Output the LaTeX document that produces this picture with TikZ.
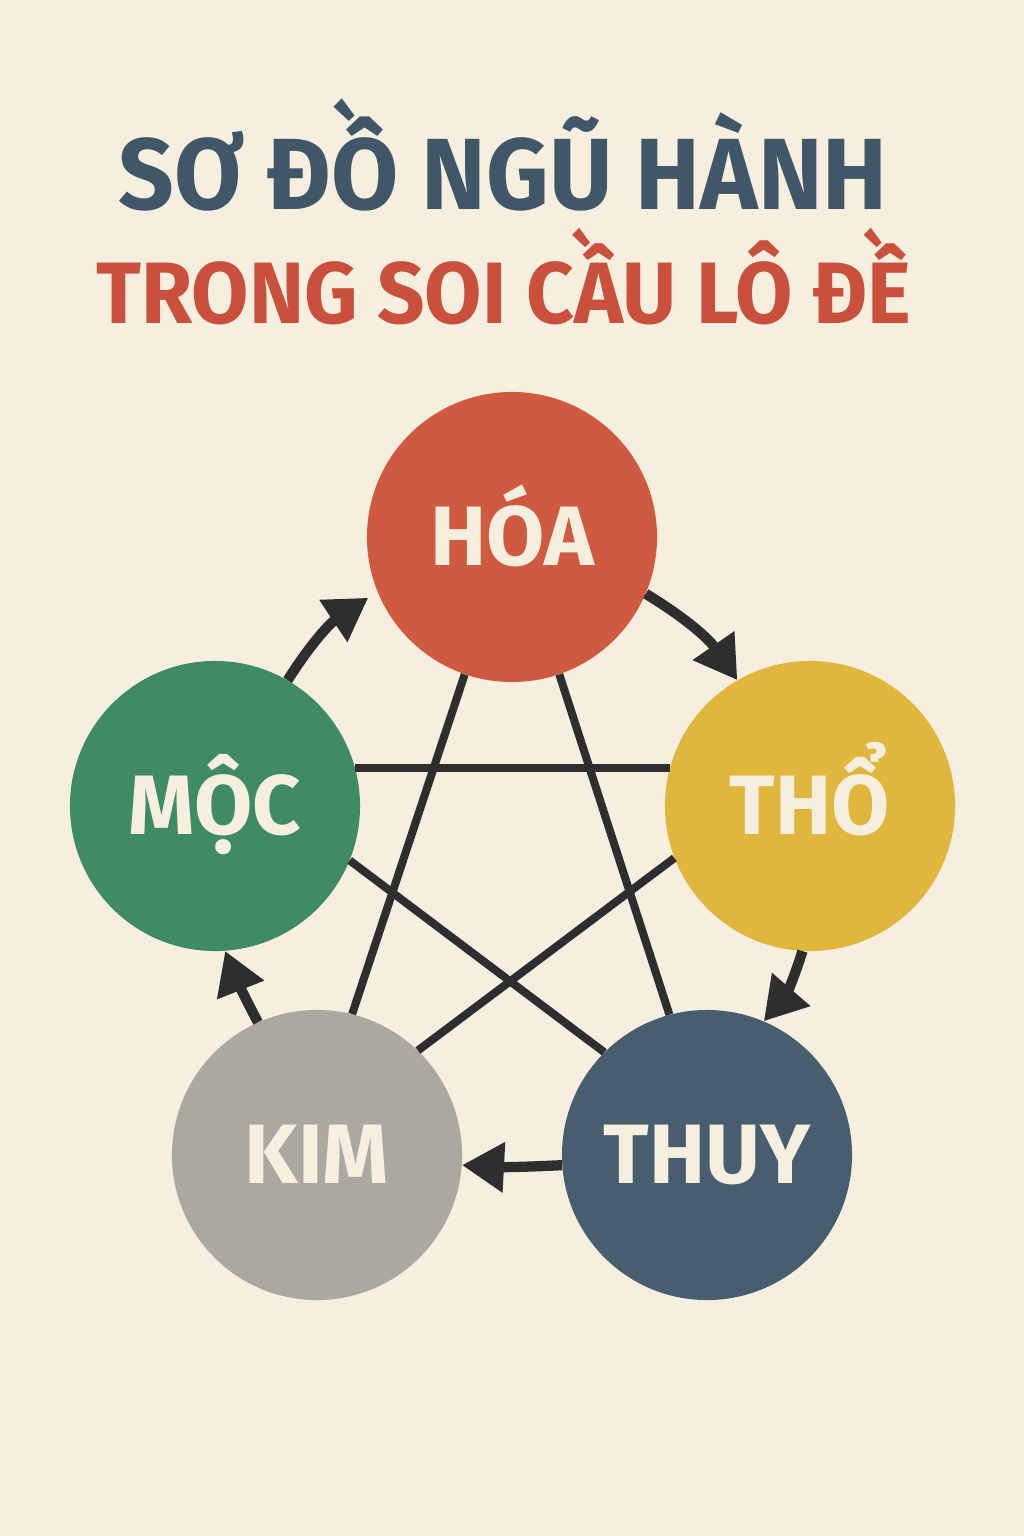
\documentclass[tikz,border=0pt]{standalone}
\usepackage{fontspec}
\setmainfont{Fira Sans}
\usetikzlibrary{arrows.meta}

\definecolor{paper}{HTML}{F6EEDF}
\definecolor{slate}{HTML}{405767}
\definecolor{brick}{HTML}{C9503A}
\definecolor{firered}{HTML}{CF5A40}
\definecolor{woodgreen}{HTML}{3F8C62}
\definecolor{earthyellow}{HTML}{E0B63C}
\definecolor{metalgrey}{HTML}{ABA7A1}
\definecolor{waterblue}{HTML}{465E6D}
\definecolor{ink}{HTML}{2E2E2E}
\definecolor{cream}{HTML}{F6EEDF}

\tikzset{
  element/.style={circle, minimum size=7.25cm, inner sep=0pt, text=cream,
    text height=41pt, text depth=0pt,
    font=\bfseries\fontsize{60}{70}\selectfont},
  star/.style={draw=ink, line width=5.7pt},
  cycle/.style={draw=ink, line width=7.3pt, -{Triangle[length=1.05cm,width=1.2cm]}}
}

\begin{document}
\begin{tikzpicture}[x=0.025cm, y=-0.025cm]
    % the page
    \fill[paper] (0,0) rectangle (1024,1536);
    \useasboundingbox (0,0) rectangle (1024,1536);

    % the titles
    \node[anchor=base, text=slate, font=\bfseries\fontsize{72}{80}\selectfont] (title) at (503,210) {\scalebox{0.962}[1]{SƠ ĐỒ NGŨ HÀNH}};
    \node[anchor=base, text=brick, font=\bfseries\fontsize{62}{70}\selectfont] (subtitle) at (504,323) {\scalebox{0.953}[1]{TRONG SOI CẦU LÔ ĐỀ}};

    % the five elements
    \node[element, fill=firered] (hoa) at (512,537) {HÓA};
    \node[element, fill=woodgreen] (moc) at (215,806) {MỘC};
    \node[element, fill=earthyellow] (tho) at (810,806) {THỔ};
    \node[element, fill=metalgrey] (kim) at (317,1155) {KIM};
    \node[element, fill=waterblue] (thuy) at (707,1155) {THUY};

    % the star in the middle
    \draw[star] (moc.15) -- (tho.165);
    \draw[star] (hoa.251) -- (kim.76);
    \draw[star] (hoa.289) -- (thuy.105);
    \draw[star] (moc.338) -- (thuy.135);
    \draw[star] (tho.201) -- (kim.46);

    % the arrows round the outside
    \draw[cycle] (moc.60) to[bend left=12] ([shift={(-10,4)}]hoa.203);
    \draw[cycle] (hoa.337) to[bend left=12] (tho.120);
    \draw[cycle] (tho.267) to[bend left=12] (thuy.67);
    \draw[cycle] (thuy.184) to[bend left=3] (kim.356);
    \draw[cycle] (kim.114) to[bend left=3] (moc.274);
\end{tikzpicture}
\end{document}
